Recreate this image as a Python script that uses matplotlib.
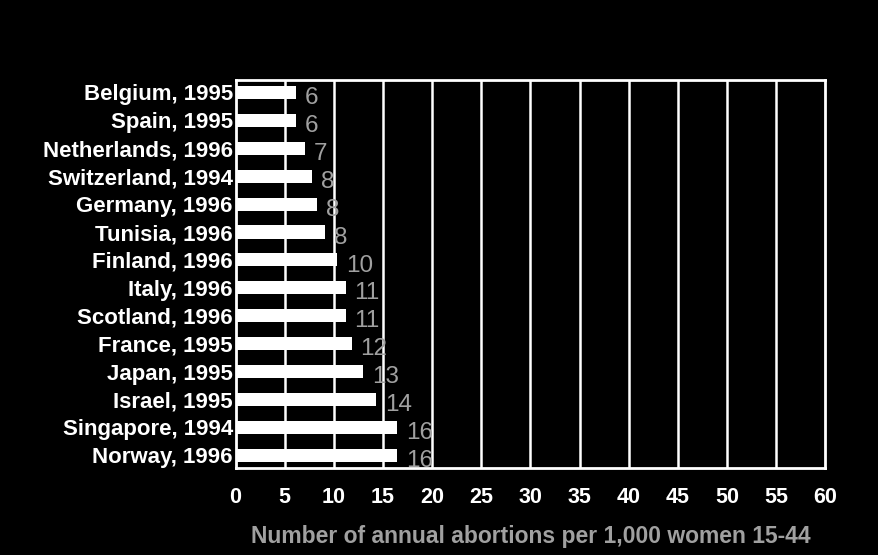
import matplotlib
matplotlib.use("Agg")
import matplotlib.pyplot as plt

# countries top to bottom, bar lengths, printed labels
countries = ["Belgium, 1995", "Spain, 1995", "Netherlands, 1996", "Switzerland, 1994",
             "Germany, 1996", "Tunisia, 1996", "Finland, 1996", "Italy, 1996",
             "Scotland, 1996", "France, 1995", "Japan, 1995", "Israel, 1995",
             "Singapore, 1994", "Norway, 1996"]
rates = [6.1, 6.1, 7.1, 7.8, 8.3, 9.1, 10.3, 11.2, 11.2, 11.8, 13.0, 14.3, 16.4, 16.4]
labels = ["6", "6", "7", "8", "8", "8", "10", "11", "11", "12", "13", "14", "16", "16"]
xticks = [0, 5, 10, 15, 20, 25, 30, 35, 40, 45, 50, 55, 60]

plt.rcParams['font.family'] = ['Liberation Sans', 'DejaVu Sans']

fig = plt.figure(figsize=(8.79, 5.55), dpi=100, facecolor='black')
ax = fig.add_axes([0.268, 0.157, 0.671, 0.699], facecolor='black')

ax.set_xlim(0, 60)
ax.set_ylim(13.45, -0.45)
for x in xticks[1:-1]:
    ax.axvline(x, color='white', lw=1.8, zorder=1)

y = list(range(len(countries)))
ax.barh(y, rates, height=0.47, color='white', zorder=2)
for i, (r, t) in enumerate(zip(rates, labels)):
    ax.text(r + 0.9, i + 0.2, t, color='#a0a0a0', fontsize=17.5,
            ha='left', va='center', zorder=3)

for s in ax.spines.values():
    s.set_color('white')
    s.set_linewidth(2)

ax.set_yticks(y)
ax.set_yticklabels(countries, color='white', fontsize=16, fontweight='bold')
ax.set_xticks(xticks)
ax.set_xticklabels([str(v) for v in xticks], color='white', fontsize=15.5,
                   fontweight='bold')
ax.tick_params(axis='y', length=0, pad=2)
ax.tick_params(axis='x', length=0, pad=14)
ax.set_xlabel("Number of annual abortions per 1,000 women 15-44",
              color='#a0a0a0', fontsize=16.5, fontweight='bold', labelpad=12)

fig.savefig("out.png", dpi=100, facecolor='black')
